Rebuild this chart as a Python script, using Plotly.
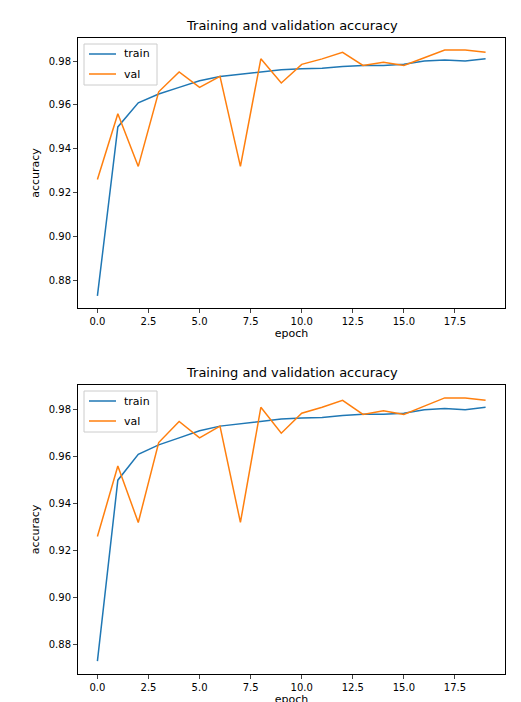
import plotly.graph_objects as go

epochs = list(range(20))
train = [0.873, 0.950, 0.961, 0.965, 0.968, 0.971, 0.973, 0.974, 0.975, 0.976,
         0.9765, 0.9767, 0.9775, 0.978, 0.978, 0.9785, 0.980, 0.9805, 0.980, 0.981]
val = [0.926, 0.956, 0.932, 0.966, 0.975, 0.968, 0.973, 0.932, 0.981, 0.970,
       0.9785, 0.981, 0.984, 0.978, 0.9795, 0.978, 0.9815, 0.985, 0.985, 0.984]
yticks = [0.88, 0.90, 0.92, 0.94, 0.96, 0.98]
xticks = [0, 2.5, 5, 7.5, 10, 12.5, 15, 17.5]

W, H = 521, 702
ML, MR, MT, MB = 60, 15, 20, 30
PW, PH = W - ML - MR, H - MT - MB
L, R = 70, 497
panels = [(30, 300), (377, 666)]

def px(x):
    return (x - ML) / PW

def py(y):
    return 1 - (y - MT) / PH

fig = go.Figure()
for i, (top, bot) in enumerate(panels):
    s = "" if i == 0 else str(i + 1)
    fig.add_trace(go.Scatter(x=epochs, y=train, mode="lines", name="train",
                             line=dict(color="#1f77b4", width=1.5),
                             xaxis="x" + s, yaxis="y" + s, showlegend=False))
    fig.add_trace(go.Scatter(x=epochs, y=val, mode="lines", name="val",
                             line=dict(color="#ff7f0e", width=1.5),
                             xaxis="x" + s, yaxis="y" + s, showlegend=False))
    ax = dict(showline=True, mirror=True, linecolor="black", linewidth=1,
              ticks="outside", ticklen=4, showgrid=False, zeroline=False,
              automargin=False, tickfont=dict(size=10, color="black"))
    fig.layout["xaxis" + s] = dict(ax, domain=[px(L), px(R)], anchor="y" + s,
                                   range=[-0.95, 19.95], tickvals=xticks,
                                   ticktext=[f"{t:.1f}" for t in xticks],
                                   title=dict(text="epoch", font=dict(size=11), standoff=2))
    fig.layout["yaxis" + s] = dict(ax, domain=[py(bot), py(top)], anchor="x" + s,
                                   range=[0.8675, 0.9905], tickvals=yticks,
                                   ticktext=[f"{t:.2f}" for t in yticks],
                                   title=dict(text="accuracy", font=dict(size=11), standoff=6))
    fig.add_annotation(x=px((L + R) / 2), y=py(top - 3), xref="paper", yref="paper",
                       text="Training and validation accuracy", showarrow=False,
                       yanchor="bottom", font=dict(size=13, color="black"))
    fig.add_shape(type="rect", xref="paper", yref="paper", x0=px(76), x1=px(149),
                  y0=py(top + 47), y1=py(top + 6),
                  line=dict(color="#cccccc", width=1), fillcolor="rgba(255,255,255,0.8)")
    for j, (nm, col) in enumerate([("train", "#1f77b4"), ("val", "#ff7f0e")]):
        yy = py(top + 16 + j * 20)
        fig.add_shape(type="line", xref="paper", yref="paper", x0=px(81), x1=px(108),
                      y0=yy, y1=yy, line=dict(color=col, width=1.5))
        fig.add_annotation(x=px(114), y=yy, xref="paper", yref="paper", text=nm,
                           showarrow=False, xanchor="left", yanchor="middle",
                           font=dict(size=11, color="black"))

fig.update_layout(width=W, height=H, margin=dict(l=ML, r=MR, t=MT, b=MB, autoexpand=False),
                  plot_bgcolor="white", paper_bgcolor="white",
                  font=dict(family="DejaVu Sans", color="black"))
fig.write_html("out.html")
